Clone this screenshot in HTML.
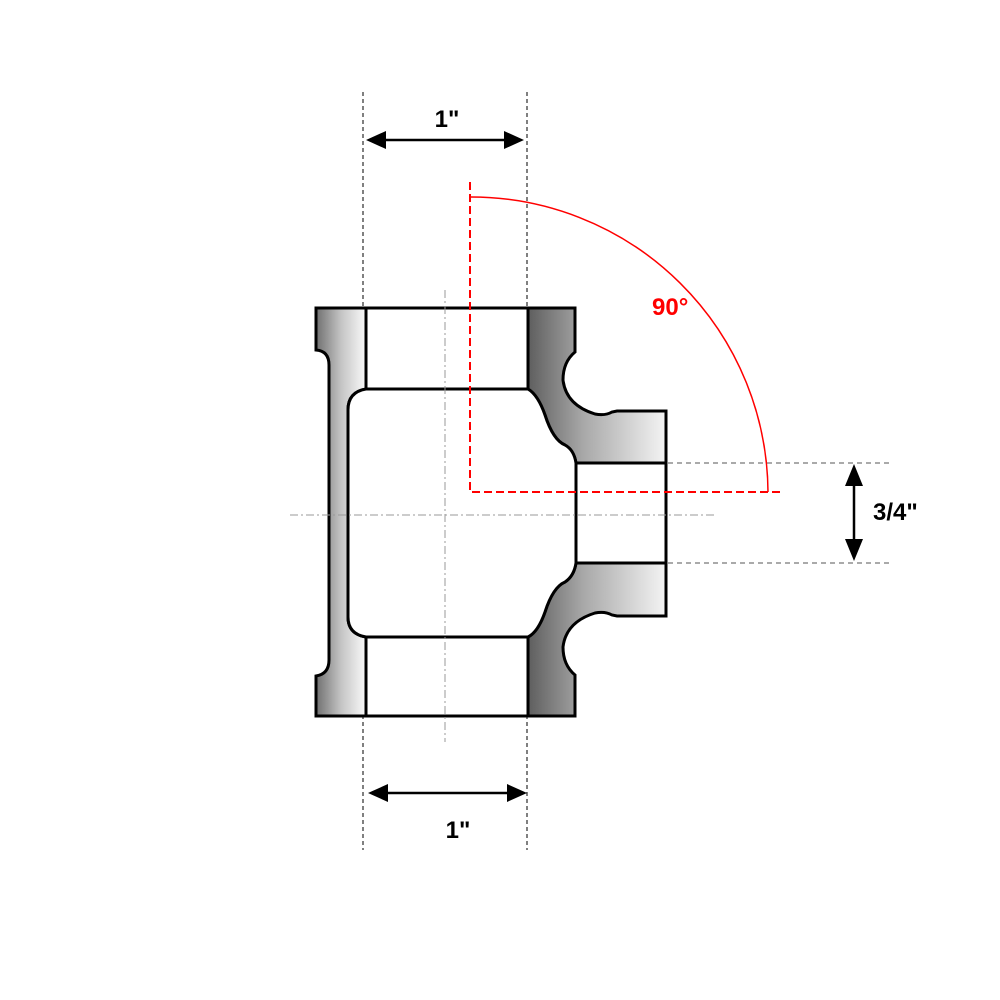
<!DOCTYPE html>
<html><head><meta charset="utf-8"><style>body{margin:0;background:#fff}svg{display:block}</style></head>
<body>
<svg width="1000" height="1000" viewBox="0 0 1000 1000" xmlns="http://www.w3.org/2000/svg">
<defs>
<linearGradient id="gl" x1="316" x2="366" y1="0" y2="0" gradientUnits="userSpaceOnUse"><stop offset="0" stop-color="#707070"/><stop offset="0.5" stop-color="#c4c4c4"/><stop offset="1" stop-color="#fafafa"/></linearGradient>
<linearGradient id="gb" x1="528" x2="666" y1="0" y2="0" gradientUnits="userSpaceOnUse"><stop offset="0" stop-color="#5e5e5e"/><stop offset="0.4" stop-color="#a8a8a8"/><stop offset="1" stop-color="#f4f4f4"/></linearGradient>
</defs>
<g stroke="#000" stroke-width="1" stroke-dasharray="4,3">
<line x1="363" y1="92" x2="363" y2="850"/>
<line x1="527" y1="92" x2="527" y2="850"/>
</g>
<path d="M316,308 H366 V389 Q348,392 348,410 V617 Q348,634 366,637 V716 H316 V676 Q329,674 329,660 V365 Q329,351 316,350 Z" fill="url(#gl)" stroke="#000" stroke-width="3"/>
<path d="M528,308 H575 V352 Q563,362 563,380 Q566,405 595,414 Q605,416 612,412 L617,411 H666 V463 H576 Q574,450 565,445 Q553,440 545,415 Q538,395 528,389 Z" fill="url(#gb)" stroke="#000" stroke-width="3"/>
<path d="M528,716 H575 V675 Q563,665 563,647 Q566,622 595,613 Q605,611 612,615 L617,616 H666 V563 H576 Q574,576 565,582 Q553,587 545,612 Q538,632 528,637 Z" fill="url(#gb)" stroke="#000" stroke-width="3"/>
<path d="M366,389 H528 Q538,395 545,415 Q553,440 565,445 Q574,450 576,463 V563 Q574,576 565,582 Q553,587 545,612 Q538,632 528,637 H366 Q348,634 348,617 V410 Q348,392 366,389 Z" fill="#fff" stroke="#000" stroke-width="3"/>
<rect x="366" y="308" width="162" height="81" fill="#fff" stroke="#000" stroke-width="3"/>
<rect x="366" y="637" width="162" height="79" fill="#fff" stroke="#000" stroke-width="3"/>
<rect x="576" y="463" width="90" height="100" fill="#fff" stroke="#000" stroke-width="3"/>
<g stroke="#999" stroke-width="1" stroke-dasharray="8,3,2,3" fill="none">
<line x1="290" y1="515" x2="715" y2="515"/>
<line x1="445" y1="290" x2="445" y2="742"/>
</g>
<g stroke="#555" stroke-width="1" stroke-dasharray="5,4">
<line x1="668" y1="463" x2="889" y2="463"/>
<line x1="668" y1="563" x2="889" y2="563"/>
</g>
<g fill="#000" stroke="#000" stroke-width="2.5">
<line x1="380" y1="140" x2="510" y2="140"/>
<polygon points="366,140 386,131 386,149" stroke="none"/>
<polygon points="524,140 504,131 504,149" stroke="none"/>
<line x1="385" y1="793" x2="512" y2="793"/>
<polygon points="368,793 388,784 388,802" stroke="none"/>
<polygon points="527,793 507,784 507,802" stroke="none"/>
<line x1="854" y1="480" x2="854" y2="546"/>
<polygon points="854,464 845,486 863,486" stroke="none"/>
<polygon points="854,561 845,539 863,539" stroke="none"/>
</g>
<g stroke="#f00" fill="none">
<path d="M470,182 V492 H781" stroke-width="2" stroke-dasharray="8,4"/>
<path d="M470,197 A297,297 0 0 1 768,492" stroke-width="1.5"/>
</g>
<g font-family="Liberation Sans, sans-serif" font-weight="bold" font-size="24">
<text x="447" y="127" text-anchor="middle">1"</text>
<text x="458" y="838" text-anchor="middle">1"</text>
<text x="873" y="520">3/4"</text>
<text x="652" y="315" fill="#f00">90°</text>
</g>
</svg>
</body></html>
